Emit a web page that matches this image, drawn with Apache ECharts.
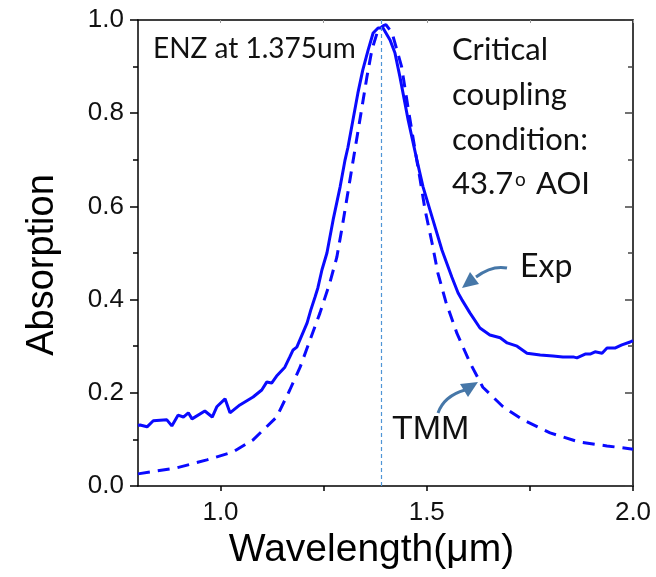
<!DOCTYPE html>
<html>
<head>
<meta charset="utf-8">
<script src="https://cdn.jsdelivr.net/npm/echarts@6/dist/echarts.min.js"></script>
<style>
  html, body { margin: 0; padding: 0; background: #fff; }
  #chart { width: 656px; height: 577px; }
</style>
</head>
<body>
<div id="chart"></div>
<script>
// measured spectrum (solid line)
var expWl = [0.800, 0.805, 0.822, 0.837, 0.870, 0.882, 0.897, 0.910, 0.922, 0.931,
    0.962, 0.980, 0.991, 1.011, 1.023, 1.047, 1.079, 1.100, 1.112, 1.124,
    1.136, 1.156, 1.168, 1.176, 1.185, 1.210, 1.219, 1.229, 1.236, 1.246,
    1.258, 1.273, 1.290, 1.302, 1.309, 1.321, 1.333, 1.345, 1.358, 1.370,
    1.382, 1.394, 1.411, 1.423, 1.435, 1.455, 1.476, 1.491, 1.515, 1.537,
    1.561, 1.576, 1.585, 1.605, 1.629, 1.653, 1.678, 1.695, 1.719, 1.743,
    1.775, 1.806, 1.830, 1.855, 1.864, 1.884, 1.896, 1.908, 1.925, 1.937,
    1.956, 1.973, 1.993, 2.000];
var expAbs = [0.130, 0.131, 0.127, 0.140, 0.142, 0.129, 0.152, 0.148, 0.157, 0.144,
    0.161, 0.148, 0.170, 0.187, 0.157, 0.174, 0.191, 0.206, 0.223, 0.221,
    0.236, 0.255, 0.277, 0.292, 0.298, 0.350, 0.378, 0.405, 0.425, 0.464,
    0.500, 0.571, 0.642, 0.700, 0.727, 0.785, 0.843, 0.893, 0.936, 0.972,
    0.983, 0.983, 0.957, 0.929, 0.878, 0.785, 0.700, 0.642, 0.571, 0.506,
    0.448, 0.414, 0.400, 0.371, 0.339, 0.324, 0.318, 0.307, 0.300, 0.285,
    0.281, 0.279, 0.277, 0.277, 0.275, 0.283, 0.283, 0.288, 0.285, 0.296,
    0.296, 0.303, 0.309, 0.312];

// transfer matrix calculation (dashed line)
var tmmWl = [0.800, 0.894, 0.967, 1.030, 1.079, 1.136, 1.168, 1.193, 1.217, 1.241,
    1.265, 1.282, 1.295, 1.307, 1.319, 1.331, 1.343, 1.355, 1.367, 1.382,
    1.395, 1.401, 1.416, 1.439, 1.455, 1.470, 1.484, 1.496, 1.513, 1.527,
    1.546, 1.573, 1.605, 1.636, 1.685, 1.733, 1.799, 1.871, 1.937, 2.000];
var tmmAbs = [0.026, 0.039, 0.056, 0.073, 0.099, 0.148, 0.206, 0.255, 0.313, 0.371,
    0.436, 0.491, 0.556, 0.620, 0.685, 0.749, 0.813, 0.878, 0.936, 0.979,
    0.988, 0.990, 0.972, 0.900, 0.810, 0.730, 0.657, 0.592, 0.521, 0.457,
    0.396, 0.328, 0.264, 0.212, 0.170, 0.142, 0.114, 0.094, 0.086, 0.079];

var enzLine = 1.385;
var xTicks = [1.0, 1.25, 1.5, 1.75, 2.0];
var xLabels = [1.0, 1.5, 2.0];

function pairs(xs, ys) {
    return xs.map(function (x, i) { return [x, ys[i]]; });
}

var blue = '#0a0aff';
var arrowColor = '#4677a8';
var noteFont = 'Lato, "Open Sans", sans-serif';

var chart = echarts.init(document.getElementById('chart'));

chart.setOption({
    animation: false,
    backgroundColor: '#fff',
    grid: { left: 138, right: 23, top: 20, bottom: 91 },
    xAxis: [{
        type: 'value',
        min: 0.8,
        max: 2.0,
        position: 'bottom',
        name: 'Wavelength(\u03bcm)',
        nameLocation: 'middle',
        nameGap: 43,
        nameTextStyle: { fontFamily: 'Liberation Sans', fontSize: 39, color: '#000', padding: [0, 28, 0, 0] },
        axisLine: { show: true, onZero: false, lineStyle: { color: '#000', width: 1.5 } },
        axisTick: { show: true, length: 5, customValues: xTicks, lineStyle: { color: '#000', width: 1.5 } },
        axisLabel: {
            customValues: xLabels,
            formatter: function (v) { return v.toFixed(1); },
            fontFamily: 'Liberation Sans', fontSize: 26, color: '#111', margin: 14
        },
        splitLine: { show: false }
    }, {
        type: 'value',
        min: 0.8,
        max: 2.0,
        position: 'top',
        axisLine: { show: true, onZero: false, lineStyle: { color: '#000', width: 1.5 } },
        axisTick: { show: true, inside: true, length: 3, customValues: xTicks, lineStyle: { color: '#999', width: 1 } },
        axisLabel: { show: false },
        splitLine: { show: false }
    }],
    yAxis: [{
        type: 'value',
        min: 0,
        max: 1,
        interval: 0.2,
        position: 'left',
        name: 'Absorption',
        nameLocation: 'middle',
        nameGap: 76,
        nameTextStyle: { fontFamily: 'Liberation Sans', fontSize: 38, color: '#000', padding: [0, 24, 0, 0] },
        axisLine: { show: true, onZero: false, lineStyle: { color: '#000', width: 1.5 } },
        axisTick: { show: true, length: 8, lineStyle: { color: '#000', width: 1.5 } },
        minorTick: { show: true, splitNumber: 2, length: 5, lineStyle: { color: '#000', width: 1.5 } },
        axisLabel: {
            formatter: function (v) { return v.toFixed(1); },
            fontFamily: 'Liberation Sans', fontSize: 26, color: '#111', margin: 14
        },
        splitLine: { show: false }
    }, {
        type: 'value',
        min: 0,
        max: 1,
        interval: 0.2,
        position: 'right',
        axisLine: { show: true, onZero: false, lineStyle: { color: '#000', width: 1.5 } },
        axisTick: { show: true, inside: true, length: 8, lineStyle: { color: '#444', width: 1.5 } },
        minorTick: { show: true, splitNumber: 2, length: 5, lineStyle: { color: '#444', width: 1.5 } },
        axisLabel: { show: false },
        splitLine: { show: false }
    }],
    series: [{
        name: 'Exp',
        type: 'line',
        data: pairs(expWl, expAbs),
        showSymbol: false,
        smooth: false,
        lineStyle: { color: blue, width: 3 },
        markLine: {
            silent: true,
            symbol: 'none',
            label: { show: false },
            lineStyle: { color: '#4f95d6', width: 1.2, type: [4, 3] },
            data: [{ xAxis: enzLine }]
        },
        z: 3
    }, {
        name: 'TMM',
        type: 'line',
        data: pairs(tmmWl, tmmAbs),
        showSymbol: false,
        smooth: false,
        lineStyle: { color: blue, width: 3, type: [12, 8] },
        z: 2
    }],
    graphic: [
        { type: 'text', left: 153, top: 35, style: { text: 'ENZ at 1.375um', font: '28px ' + noteFont, fill: '#111' } },
        { type: 'text', left: 452, top: 34, style: { text: 'Critical', font: '31px ' + noteFont, fill: '#111' } },
        { type: 'text', left: 452, top: 79, style: { text: 'coupling', font: '31px ' + noteFont, fill: '#111' } },
        { type: 'text', left: 452, top: 124, style: { text: 'condition:', font: '31px ' + noteFont, fill: '#111' } },
        { type: 'text', left: 452, top: 168, style: { text: '43.7', font: '31px ' + noteFont, fill: '#111' } },
        { type: 'text', left: 515, top: 170, style: { text: 'o', font: '19px ' + noteFont, fill: '#111' } },
        { type: 'text', left: 536, top: 168, style: { text: 'AOI', font: '31px ' + noteFont, fill: '#111' } },
        { type: 'text', left: 520, top: 251, style: { text: 'Exp', font: '32px ' + noteFont, fill: '#111' } },
        { type: 'text', left: 392, top: 413, style: { text: 'TMM', font: '34px "Liberation Sans", sans-serif', fill: '#111' } },
        {
            type: 'bezierCurve',
            shape: { x1: 507, y1: 268, x2: 476, y2: 277, cpx1: 492, cpy1: 265 },
            style: { stroke: arrowColor, lineWidth: 3, fill: null }
        },
        {
            type: 'polygon',
            shape: { points: [[462, 288], [479, 284], [470, 272]] },
            style: { fill: arrowColor }
        },
        {
            type: 'bezierCurve',
            shape: { x1: 438, y1: 413, x2: 465, y2: 390, cpx1: 444, cpy1: 396 },
            style: { stroke: arrowColor, lineWidth: 3, fill: null }
        },
        {
            type: 'polygon',
            shape: { points: [[478, 382], [468, 397], [460, 384]] },
            style: { fill: arrowColor }
        }
    ]
});
</script>
</body>
</html>
